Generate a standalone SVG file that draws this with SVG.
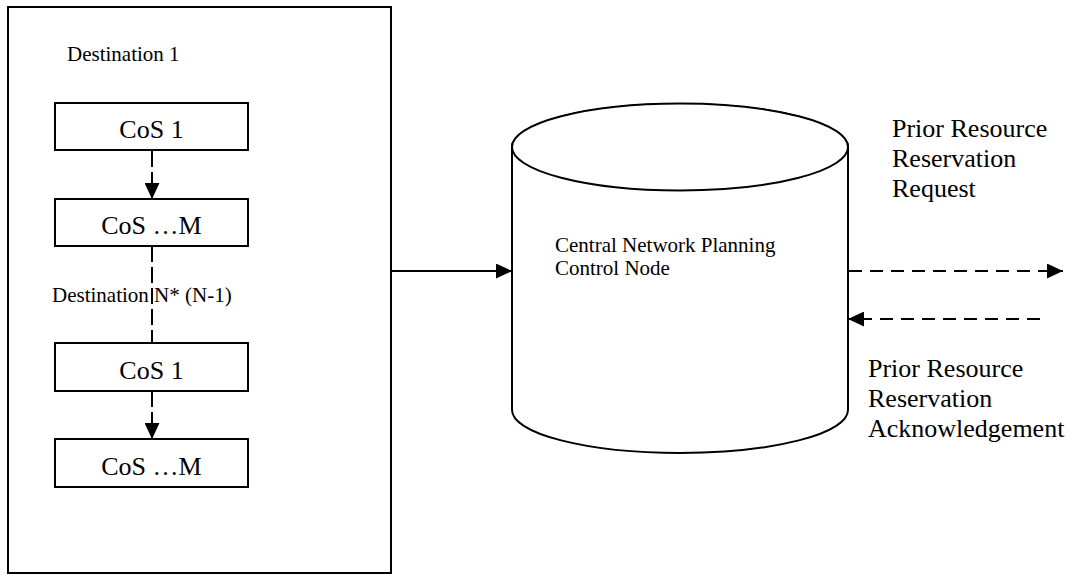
<svg xmlns="http://www.w3.org/2000/svg" width="1075" height="583" viewBox="0 0 1075 583">
  <style>
    .shape { fill: #ffffff; stroke: #000000; stroke-width: 2; }
    .line { fill: none; stroke: #000000; stroke-width: 2; }
    .vdash { stroke-dasharray: 16 5; }
    .hdash { stroke-dasharray: 13 8; }
    .big { font-family: "Liberation Serif", "Times New Roman", serif; font-size: 26px; fill: #000000; }
    .small { font-family: "Liberation Serif", "Times New Roman", serif; font-size: 21px; fill: #000000; }
  </style>
  <defs>
    <marker id="arrow" markerWidth="16" markerHeight="15" refX="16" refY="7.5" orient="auto" markerUnits="userSpaceOnUse">
      <path d="M0,0 L16,7.5 L0,15 Z" fill="#000000"/>
    </marker>
  </defs>
  <rect width="1075" height="583" fill="#ffffff"/>

  <g id="destination-container">
    <rect class="shape" x="8" y="7" width="383" height="566"/>
    <text class="small" x="67" y="61">Destination 1</text>
  </g>

  <g id="connectors">
    <line class="line vdash" x1="152" y1="151" x2="152" y2="199" marker-end="url(#arrow)"/>
    <line class="line vdash" x1="152" y1="246" x2="152" y2="343"/>
    <line class="line vdash" x1="152" y1="391" x2="152" y2="439" marker-end="url(#arrow)"/>
    <line class="line" x1="391" y1="271" x2="512" y2="271" marker-end="url(#arrow)"/>
    <line class="line hdash" x1="849" y1="271" x2="1063" y2="271" marker-end="url(#arrow)"/>
    <line class="line hdash" x1="1040" y1="319" x2="848" y2="319" marker-end="url(#arrow)"/>
  </g>

  <g id="cos1-a">
    <rect class="shape" x="55" y="103" width="193" height="47"/>
    <text class="big" x="151.5" y="138" text-anchor="middle">CoS 1</text>
  </g>
  <g id="cosM-a">
    <rect class="shape" x="55" y="199" width="193" height="47"/>
    <text class="big" x="151.5" y="234" text-anchor="middle">CoS …M</text>
  </g>

  <g id="destination-n-label">
    <text class="small" x="52" y="302">Destination N* (N-1)</text>
  </g>

  <g id="cos1-b">
    <rect class="shape" x="55" y="343" width="193" height="48"/>
    <text class="big" x="151.5" y="379" text-anchor="middle">CoS 1</text>
  </g>
  <g id="cosM-b">
    <rect class="shape" x="55" y="439" width="193" height="48"/>
    <text class="big" x="151.5" y="475" text-anchor="middle">CoS …M</text>
  </g>

  <g id="central-node">
    <path class="shape" d="M512,147 L512,410 A168,43 0 0 0 848,410 L848,147 A168,43 0 0 0 512,147 Z"/>
    <ellipse class="shape" cx="680" cy="147" rx="168" ry="43.5"/>
    <text class="small" x="555" y="252">Central Network Planning</text>
    <text class="small" x="555" y="275">Control Node</text>
  </g>

  <g id="request-label">
    <text class="big" x="892" y="137">Prior Resource</text>
    <text class="big" x="892" y="167">Reservation</text>
    <text class="big" x="892" y="197">Request</text>
  </g>

  <g id="ack-label">
    <text class="big" x="868" y="377">Prior Resource</text>
    <text class="big" x="868" y="407">Reservation</text>
    <text class="big" x="868" y="437">Acknowledgement</text>
  </g>
</svg>
